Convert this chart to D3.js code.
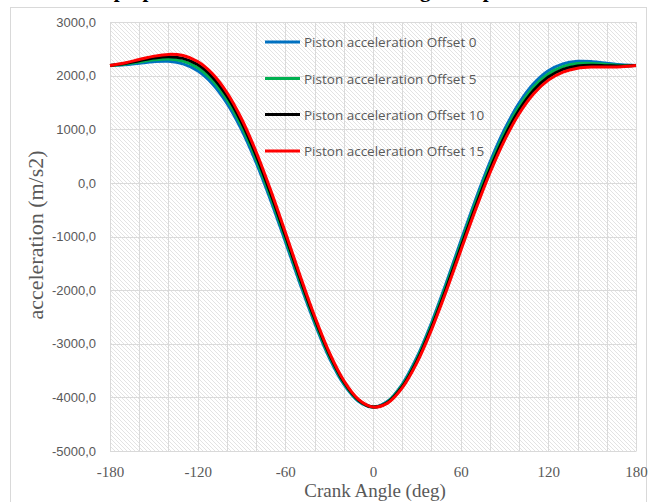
<!DOCTYPE html>
<html>
<head>
<meta charset="utf-8">
<script src="https://cdn.jsdelivr.net/npm/d3@7/dist/d3.min.js"></script>
<style>
  html, body { margin: 0; padding: 0; background: #fff; }
  svg { display: block; }
</style>
</head>
<body>
<svg id="chart" width="648" height="502"></svg>
<script>
// Crank angle samples (deg)
const angles = [-180,-170,-160,-150,-140,-130,-120,-110,-100,-90,-80,-70,-60,-50,-40,-30,-20,-10,0,
                10,20,30,40,50,60,70,80,90,100,110,120,130,140,150,160,170,180];

// Piston acceleration (m/s2) for each pin offset
const offset0  = [2190,2201,2231,2261,2267,2220,2090,1851,1488,995,382,-327,-1095,-1875,-2612,-3256,-3755,-4072,-4180,
                  -4072,-3755,-3256,-2612,-1875,-1095,-327,382,995,1488,1851,2090,2220,2267,2261,2231,2201,2190];
const offset5  = [2190,2213,2254,2294,2310,2271,2148,1914,1554,1062,448,-264,-1037,-1824,-2569,-3222,-3732,-4060,-4180,
                  -4084,-3778,-3290,-2655,-1926,-1153,-390,316,928,1422,1788,2032,2169,2224,2228,2208,2189,2190];
const offset10 = [2190,2224,2277,2328,2353,2322,2206,1977,1620,1129,514,-201,-979,-1772,-2526,-3189,-3709,-4049,-4180,
                  -4095,-3801,-3323,-2698,-1977,-1211,-453,250,861,1356,1726,1974,2117,2181,2194,2185,2178,2190];
const offset15 = [2190,2236,2300,2361,2396,2374,2264,2040,1686,1196,580,-138,-921,-1721,-2483,-3156,-3686,-4037,-4180,
                  -4107,-3824,-3356,-2741,-2029,-1269,-516,184,794,1290,1662,1916,2066,2138,2161,2162,2166,2190];

const seriesNames  = ["Piston acceleration Offset 0","Piston acceleration Offset 5",
                      "Piston acceleration Offset 10","Piston acceleration Offset 15"];
const seriesValues = [offset0, offset5, offset10, offset15];
const seriesColors = ["#0070C0", "#00B050", "#000000", "#FF0000"];

const xTicks = [-180,-120,-60,0,60,120,180];
const xGrid  = d3.range(-180, 181, 20);
const yTicks = [3000,2000,1000,0,-1000,-2000,-3000,-4000,-5000];

const svg = d3.select("#chart");
const W = 648, H = 502;
const plot = { left: 110, right: 636, top: 22, bottom: 451 };

const x = d3.scaleLinear().domain([-180, 180]).range([plot.left, plot.right]);
const y = d3.scaleLinear().domain([-5000, 3000]).range([plot.bottom, plot.top]);

// Chart title, sitting above the frame
svg.append("text")
  .attr("x", W / 2 + 2).attr("y", -3)
  .attr("text-anchor", "middle")
  .attr("font-family", "Liberation Serif, serif")
  .attr("font-weight", "bold")
  .attr("font-size", 21)
  .attr("fill", "#000")
  .text("Graph piston acceleration vs crank angle for pin offsets");

// Outer chart frame
svg.append("rect")
  .attr("x", 10.5).attr("y", 7.5)
  .attr("width", W - 12).attr("height", H)
  .attr("fill", "#fff")
  .attr("stroke", "#d9d9d9").attr("stroke-width", 1);

// Diagonal hatch fill for the plot area
const defs = svg.append("defs");
const pat = defs.append("pattern")
  .attr("id", "hatch")
  .attr("patternUnits", "userSpaceOnUse")
  .attr("width", 4).attr("height", 4);
pat.append("rect").attr("width", 4).attr("height", 4).attr("fill", "#fff");
pat.append("path")
  .attr("d", "M-1,-1 L5,5 M-1,3 L1,5 M3,-1 L5,1")
  .attr("stroke", "#dcdcdc").attr("stroke-width", 0.8);

svg.append("rect")
  .attr("x", plot.left).attr("y", plot.top)
  .attr("width", plot.right - plot.left).attr("height", plot.bottom - plot.top)
  .attr("fill", "url(#hatch)");

// Gridlines
const grid = svg.append("g").attr("stroke", "#dadada").attr("stroke-width", 1);
grid.selectAll("line.v").data(xGrid).join("line")
  .attr("class", "v")
  .attr("x1", d => Math.round(x(d)) + 0.5).attr("x2", d => Math.round(x(d)) + 0.5)
  .attr("y1", plot.top).attr("y2", plot.bottom);
grid.selectAll("line.h").data(yTicks).join("line")
  .attr("class", "h")
  .attr("x1", plot.left).attr("x2", plot.right)
  .attr("y1", d => Math.round(y(d)) + 0.5).attr("y2", d => Math.round(y(d)) + 0.5);

// Axes
const fmtY = v => d3.format(".1f")(v).replace(".", ",").replace("−", "-");
const yAxis = svg.append("g")
  .attr("transform", `translate(${plot.left},0)`)
  .call(d3.axisLeft(y).tickValues(yTicks).tickFormat(fmtY).tickSize(0).tickPadding(14));
yAxis.select(".domain").remove();
yAxis.selectAll("text")
  .attr("font-family", "Liberation Sans, Arial, sans-serif")
  .attr("font-size", 13)
  .attr("fill", "#595959");

const xAxis = svg.append("g")
  .attr("transform", `translate(0,${plot.bottom})`)
  .call(d3.axisBottom(x).tickValues(xTicks).tickFormat(d => String(d)).tickSize(0).tickPadding(15));
xAxis.select(".domain").attr("stroke", "#d9d9d9");
xAxis.selectAll("text")
  .attr("font-family", "Liberation Serif, serif")
  .attr("font-size", 15)
  .attr("fill", "#595959");

// Axis titles
svg.append("text")
  .attr("transform", `translate(43,235) rotate(-90)`)
  .attr("text-anchor", "middle")
  .attr("font-family", "Liberation Serif, serif")
  .attr("font-size", 22)
  .attr("fill", "#595959")
  .text("acceleration (m/s2)");

svg.append("text")
  .attr("x", (plot.left + plot.right) / 2 + 2).attr("y", 497)
  .attr("text-anchor", "middle")
  .attr("font-family", "Liberation Serif, serif")
  .attr("font-size", 19)
  .attr("fill", "#595959")
  .text("Crank Angle (deg)");

// Series lines
const line = d3.line()
  .x((d, i) => x(angles[i]))
  .y(d => y(d))
  .curve(d3.curveCatmullRom.alpha(0.5));

svg.append("g").selectAll("path").data(seriesValues).join("path")
  .attr("d", d => line(d))
  .attr("fill", "none")
  .attr("stroke", (d, i) => seriesColors[i])
  .attr("stroke-width", 3)
  .attr("stroke-linejoin", "round");

// Legend
const legend = svg.append("g");
const legY = [42, 78.5, 114.5, 151];
seriesNames.forEach((name, i) => {
  legend.append("line")
    .attr("x1", 265).attr("x2", 300)
    .attr("y1", legY[i]).attr("y2", legY[i])
    .attr("stroke", seriesColors[i]).attr("stroke-width", 3);
  legend.append("text")
    .attr("x", 304).attr("y", legY[i] + 5)
    .attr("font-family", "Open Sans, Liberation Sans, sans-serif")
    .attr("font-size", 13.5)
    .attr("fill", "#595959")
    .text(name);
});
</script>
</body>
</html>
